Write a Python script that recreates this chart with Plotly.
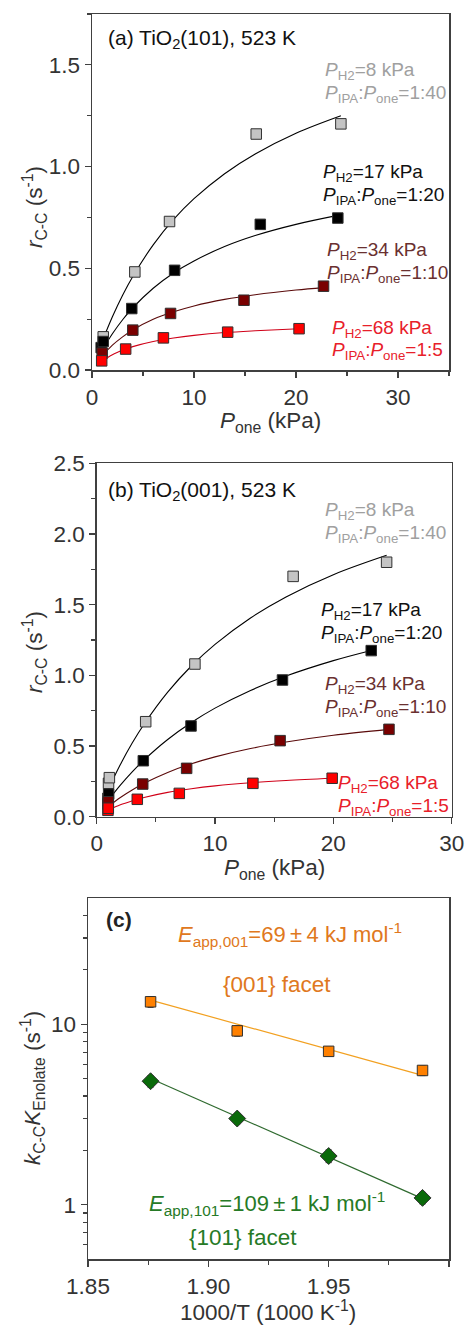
import plotly.graph_objects as go

# ---------------- data: panel (a) TiO2(101) ----------------
a_gray_x = [1.1, 4.2, 7.6, 16.1, 24.4]
a_gray_y = [0.163, 0.482, 0.73, 1.16, 1.21]
a_black_x = [0.9, 1.1, 3.9, 8.1, 16.5, 24.1]
a_black_y = [0.11, 0.14, 0.302, 0.49, 0.716, 0.747]
a_dred_x = [1.0, 4.0, 7.7, 14.9, 22.7]
a_dred_y = [0.083, 0.196, 0.278, 0.343, 0.412]
a_red_x = [0.95, 3.3, 7.0, 13.3, 20.3]
a_red_y = [0.045, 0.103, 0.158, 0.186, 0.203]

# fitted curves
a_gray_cx = [1, 2, 3, 4, 6, 8, 10, 13, 16, 20, 24.4]
a_gray_cy = [0.141, 0.262, 0.368, 0.460, 0.615, 0.740, 0.842, 0.965, 1.062, 1.164, 1.250]
a_black_cx = [1, 2, 3, 4, 6, 8, 10, 13, 16, 20, 24.1]
a_black_cy = [0.097, 0.178, 0.247, 0.306, 0.402, 0.477, 0.536, 0.607, 0.661, 0.716, 0.760]
a_dred_cx = [1, 2, 3, 4, 6, 8, 10, 13, 16, 20, 22.7]
a_dred_cy = [0.069, 0.122, 0.163, 0.197, 0.249, 0.286, 0.315, 0.347, 0.370, 0.393, 0.405]
a_red_cx = [1, 2, 3, 4, 6, 8, 10, 13, 16, 20.3]
a_red_cy = [0.044, 0.075, 0.097, 0.115, 0.140, 0.157, 0.170, 0.184, 0.193, 0.203]

# ---------------- data: panel (b) TiO2(001) ----------------
b_gray_x = [1.0, 1.07, 4.14, 8.3, 16.6, 24.5]
b_gray_y = [0.236, 0.276, 0.672, 1.08, 1.70, 1.80]
b_black_x = [0.95, 1.01, 3.94, 7.97, 15.7, 23.2]
b_black_y = [0.13, 0.16, 0.396, 0.642, 0.967, 1.175]
b_dred_x = [0.95, 0.98, 3.89, 7.6, 15.5, 24.7]
b_dred_y = [0.09, 0.106, 0.231, 0.342, 0.538, 0.618]
b_red_x = [0.95, 0.98, 3.43, 6.98, 13.2, 19.9]
b_red_y = [0.045, 0.06, 0.123, 0.165, 0.236, 0.272]

b_gray_cx = [1, 2, 3, 4, 6, 8, 10, 13, 16, 20, 24.5]
b_gray_cy = [0.197, 0.369, 0.521, 0.654, 0.881, 1.066, 1.219, 1.406, 1.555, 1.712, 1.849]
b_black_cx = [1, 2, 3, 4, 6, 8, 10, 13, 16, 20, 23.2]
b_black_cy = [0.118, 0.223, 0.317, 0.401, 0.546, 0.666, 0.768, 0.893, 0.995, 1.104, 1.176]
b_dred_cx = [1, 2, 3, 4, 6, 8, 10, 13, 16, 20, 24.7]
b_dred_cy = [0.073, 0.136, 0.189, 0.236, 0.313, 0.374, 0.423, 0.482, 0.528, 0.576, 0.618]
b_red_cx = [1, 2, 3, 4, 6, 8, 10, 13, 16, 19.9]
b_red_cy = [0.047, 0.084, 0.112, 0.136, 0.172, 0.198, 0.218, 0.240, 0.256, 0.272]

# ---------------- data: panel (c) Arrhenius ----------------
c_x = [1.876, 1.912, 1.950, 1.989]
c_001_y = [13.3, 9.18, 7.07, 5.54]
c_001_err = [0.9, 0.6, 0.4, 0.35]
c_101_y = [4.83, 3.0, 1.86, 1.09]
c_101_err = [0.35, 0.2, 0.15, 0.08]
c_fit_x = [1.876, 1.989]
c_001_fit = [13.6, 5.2]
c_101_fit = [5.0, 1.08]

W, H = 469, 1325
FONT = "Liberation Sans, Arial, Helvetica, sans-serif"
AX = "#404040"
TXT = "#333333"

def px(x):
    return x / W

def py(y):
    return 1 - y / H

fig = go.Figure()

def add_series(xs, ys, cx, cy, fill, curve, xa, ya):
    fig.add_trace(go.Scatter(x=cx, y=cy, mode="lines", line=dict(color=curve, width=1.1, shape="spline"),
                             xaxis=xa, yaxis=ya, hoverinfo="skip"))
    fig.add_trace(go.Scatter(x=xs, y=ys, mode="markers",
                             marker=dict(symbol="square", size=10.5, color=fill, line=dict(color="#303030", width=1)),
                             xaxis=xa, yaxis=ya))

GRAY, BLACK, DRED, RED = "#c4c4c4", "#000000", "#7a0000", "#ff0000"
add_series(a_gray_x, a_gray_y, a_gray_cx, a_gray_cy, GRAY, "#000000", "x", "y")
add_series(a_black_x, a_black_y, a_black_cx, a_black_cy, BLACK, "#000000", "x", "y")
add_series(a_dred_x, a_dred_y, a_dred_cx, a_dred_cy, DRED, "#5a0a0a", "x", "y")
add_series(a_red_x, a_red_y, a_red_cx, a_red_cy, RED, "#d00018", "x", "y")

add_series(b_gray_x, b_gray_y, b_gray_cx, b_gray_cy, GRAY, "#000000", "x2", "y2")
add_series(b_black_x, b_black_y, b_black_cx, b_black_cy, BLACK, "#000000", "x2", "y2")
add_series(b_dred_x, b_dred_y, b_dred_cx, b_dred_cy, DRED, "#5a0a0a", "x2", "y2")
add_series(b_red_x, b_red_y, b_red_cx, b_red_cy, RED, "#d00018", "x2", "y2")

# panel c
fig.add_trace(go.Scatter(x=c_fit_x, y=c_001_fit, mode="lines", line=dict(color="#f2a020", width=1.2),
                         xaxis="x3", yaxis="y3"))
fig.add_trace(go.Scatter(x=c_fit_x, y=c_101_fit, mode="lines", line=dict(color="#2f6a2f", width=1.2),
                         xaxis="x3", yaxis="y3"))
fig.add_trace(go.Scatter(x=c_x, y=c_001_y, mode="markers",
                         error_y=dict(type="data", array=c_001_err, color="#202020", thickness=1, width=3),
                         marker=dict(symbol="square", size=10.5, color="#ff8000", line=dict(color="#303030", width=1)),
                         xaxis="x3", yaxis="y3"))
fig.add_trace(go.Scatter(x=c_x, y=c_101_y, mode="markers",
                         error_y=dict(type="data", array=c_101_err, color="#202020", thickness=1, width=3),
                         marker=dict(symbol="diamond", size=13, color="#0a6a0a", line=dict(color="#303030", width=1)),
                         xaxis="x3", yaxis="y3"))

TICK = 22.5

def axis(domain, anchor, **kw):
    d = dict(domain=domain, anchor=anchor, showline=True, linecolor=AX, linewidth=1.5, mirror=True,
             ticks="outside", ticklen=6, tickwidth=1.2, tickcolor=AX, showgrid=False, zeroline=False,
             automargin=False,
             tickfont=dict(family=FONT, size=TICK, color=TXT), fixedrange=True)
    d.update(kw)
    return d

minor_lin = lambda dt: dict(ticks="outside", ticklen=4, tickwidth=1.2, tickcolor=AX, dtick=dt, showgrid=False)

log_minor = [0.6, 0.7, 0.8, 0.9, 2, 3, 4, 5, 6, 7, 8, 9, 20, 30, 40]

fig.update_layout(
    width=W, height=H, margin=dict(l=0, r=0, t=0, b=0, autoexpand=False),
    paper_bgcolor="white", plot_bgcolor="white", showlegend=False,
    xaxis=axis([px(92), px(449)], "y", range=[0, 35], dtick=10, tick0=0, minor=minor_lin(5)),
    yaxis=axis([py(370), py(14)], "x", range=[0, 1.75], dtick=0.5, tick0=0, tickformat=".1f", minor=minor_lin(0.25)),
    xaxis2=axis([px(96.7), px(451.7)], "y2", range=[0, 30], dtick=10, tick0=0, minor=minor_lin(5)),
    yaxis2=axis([py(816.7), py(463.3)], "x2", range=[0, 2.5], dtick=0.5, tick0=0, tickformat=".1f", minor=minor_lin(0.25)),
    xaxis3=axis([px(88), px(449)], "y3", range=[1.85, 2.0], dtick=0.05, tick0=1.85, tickformat=".2f",
                minor=minor_lin(0.025)),
    yaxis3=axis([py(1259), py(898)], "x3", type="log", range=[-0.30103, 1.69897], tickvals=[1, 10],
                ticktext=["1", "10"],
                minor=dict(ticks="outside", ticklen=4, tickwidth=1.2, tickcolor=AX, tickvals=log_minor, showgrid=False)),
)

ann = []

def note(x, y, text, color=TXT, size=19, xanchor="left", angle=0):
    ann.append(dict(x=px(x), y=py(y), xref="paper", yref="paper", text=text, showarrow=False,
                    xanchor=xanchor, yanchor="middle", textangle=angle, borderpad=0,
                    font=dict(family=FONT, size=size, color=color)))

PH2 = "<i>P</i><sub>H2</sub>"
PRAT = "<i>P</i><sub>IPA</sub>:<i>P</i><sub>one</sub>"
C_GRAY_T, C_BLACK_T, C_DRED_T, C_RED_T = "#a0a0a0", "#111111", "#6a3030", "#e8202a"
TITLE = 22.5

# panel a
note(107, 39, "(a) TiO<sub>2</sub>(101), 523 K", "#111111", 21)
note(324, 71, PH2 + "=8 kPa", C_GRAY_T)
note(324, 94, PRAT + "=1:40", C_GRAY_T)
note(322, 173, PH2 + "=17 kPa", C_BLACK_T)
note(322, 196, PRAT + "=1:20", C_BLACK_T)
note(326, 251, PH2 + "=34 kPa", C_DRED_T)
note(326, 274, PRAT + "=1:10", C_DRED_T)
note(331, 329, PH2 + "=68 kPa", C_RED_T)
note(331, 351, PRAT + "=1:5", C_RED_T)
note(270, 422, "<i>P</i><sub>one</sub> (kPa)", TXT, TITLE, "center")
note(34, 207, "<i>r</i><sub>C-C</sub> (s<sup>-1</sup>)", TXT, TITLE, "center", -90)

# panel b
note(107, 491, "(b) TiO<sub>2</sub>(001), 523 K", "#111111", 21)
note(324, 511, PH2 + "=8 kPa", C_GRAY_T)
note(324, 534, PRAT + "=1:40", C_GRAY_T)
note(320, 611, PH2 + "=17 kPa", C_BLACK_T)
note(320, 634, PRAT + "=1:20", C_BLACK_T)
note(324, 685, PH2 + "=34 kPa", C_DRED_T)
note(324, 708, PRAT + "=1:10", C_DRED_T)
note(337, 784, PH2 + "=68 kPa", C_RED_T)
note(337, 807, PRAT + "=1:5", C_RED_T)
note(274, 869, "<i>P</i><sub>one</sub> (kPa)", TXT, TITLE, "center")
note(34, 652, "<i>r</i><sub>C-C</sub> (s<sup>-1</sup>)", TXT, TITLE, "center", -90)

# panel c
C_OR, C_GR = "#e07820", "#267a26"
PM = "\u2009\u00b1\u2009"
note(105, 920, "<b>(c)</b>", "#222222", 21)
note(177, 935, "<i>E</i><sub>app,001</sub>=69" + PM + "4 kJ mol<sup>-1</sup>", C_OR, 22)
note(222, 985, "{001} facet", C_OR, 22.5)
note(148, 1203, "<i>E</i><sub>app,101</sub>=109" + PM + "1 kJ mol<sup>-1</sup>", C_GR, 22)
note(188, 1237, "{101} facet", C_GR, 22.5)
note(268, 1311, "1000/T (1000 K<sup>-1</sup>)", TXT, TITLE, "center")
note(32, 1088, "<i>k</i><sub>C-C</sub><i>K</i><sub>Enolate</sub> (s<sup>-1</sup>)", TXT, TITLE, "center", -90)

fig.update_layout(annotations=ann)
fig.write_html(
    "out.html",
    config={"displayModeBar": False, "staticPlot": True},
    post_script="document.body.style.margin='0';document.body.style.padding='0';"
                "document.documentElement.style.overflow='hidden';",
)
